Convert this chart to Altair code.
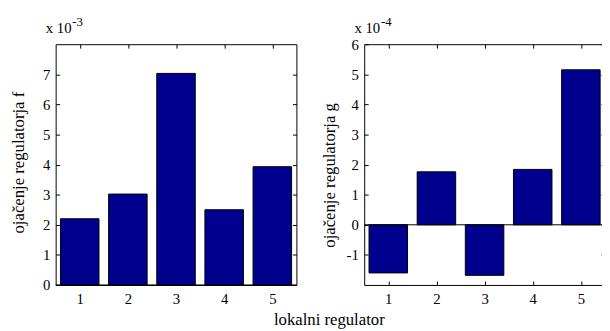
import altair as alt
import pandas as pd

# ---- data ----
regulators = [1, 2, 3, 4, 5]
gain_f = [2.20, 3.02, 7.03, 2.50, 3.93]      # x 10^-3
gain_g = [-1.60, 1.76, -1.68, 1.84, 5.15]    # x 10^-4
f_ticks = [0, 1, 2, 3, 4, 5, 6, 7]
g_ticks = [-1, 0, 1, 2, 3, 4, 5, 6]
f_domain = [0, 8]
g_domain = [-2, 6]
f_title = "ojačenje regulatorja f"
g_title = "ojačenje regulatorja g"
f_multiplier = ["x 10", "-3"]
g_multiplier = ["x 10", "-4"]
x_title = "lokalni regulator"

FONT = "Liberation Serif"
BAR = "#00008F"
W = 245
H = 245
TICK = 4


def panel(values, ydomain, yticks, ytitle, title_x, title_y, mult, xtitle=None):
    df = pd.DataFrame({"reg": regulators, "val": values})
    base = alt.Chart(df).transform_calculate(
        x0="datum.reg - 0.4", x1="datum.reg + 0.4"
    )
    xscale = alt.Scale(domain=[0.5, 5.5], nice=False, zero=False)
    yscale = alt.Scale(domain=ydomain, nice=False, zero=False)
    common = dict(domain=False, grid=False, tickSize=TICK, offset=-TICK,
                  tickColor="black", tickWidth=1, labelColor="black",
                  labelFontSize=15, labelFont=FONT)

    bars = base.mark_rect(fill=BAR, stroke="black", strokeWidth=1).encode(
        x=alt.X("x0:Q", scale=xscale,
                axis=alt.Axis(values=regulators, title=None, labelAngle=0,
                              labelPadding=7, **common)),
        x2="x1:Q",
        y=alt.Y("val:Q", scale=yscale,
                axis=alt.Axis(values=yticks, title=ytitle, labelPadding=6,
                              labelExpr="'' + datum.value",
                              titleX=title_x, titleY=title_y, titleAngle=-90,
                              titleAlign="center", titleBaseline="middle",
                              titleFontSize=17, titleFont=FONT,
                              titleFontWeight="normal", titleColor="black",
                              **common)),
        y2=alt.YDatum(0),
    )
    carrier = base.mark_rect(opacity=0).encode(
        x=alt.X("x0:Q", scale=xscale,
                axis=alt.Axis(orient="top", values=regulators, labels=False,
                              title=None, **common)),
        x2="x1:Q",
        y=alt.Y("val:Q", scale=yscale,
                axis=alt.Axis(orient="right", values=yticks, labels=False,
                              title=None, **common)),
        y2=alt.YDatum(0),
    )
    zero = alt.Chart(pd.DataFrame({"z": [0]})).mark_rule(
        color="black", strokeWidth=1
    ).encode(x=alt.XDatum(0.5, axis=None), x2=alt.X2Datum(5.5),
             y=alt.YDatum(0, axis=None))

    m1 = alt.Chart(pd.DataFrame({"t": [mult[0]]})).mark_text(
        align="left", baseline="alphabetic", fontSize=15, font=FONT, color="black"
    ).encode(text="t:N", x=alt.value(-10), y=alt.value(-11))
    m2 = alt.Chart(pd.DataFrame({"t": [mult[1]]})).mark_text(
        align="left", baseline="alphabetic", fontSize=13, font=FONT, color="black"
    ).encode(text="t:N", x=alt.value(17), y=alt.value(-19))

    layers = [carrier, bars, zero, m1, m2]
    if xtitle is not None:
        xt = alt.Chart(pd.DataFrame({"t": [xtitle]})).mark_text(
            align="center", baseline="alphabetic", fontSize=17, font=FONT,
            color="black"
        ).encode(text="t:N", x=alt.value(278.5), y=alt.value(286))
        layers.append(xt)
    return alt.layer(*layers).resolve_axis(x="independent", y="independent").properties(
        width=W, height=H
    )


left = panel(gain_f, f_domain, f_ticks, f_title, -41.5, 120, f_multiplier, x_title)
right = panel(gain_g, g_domain, g_ticks, g_title, -39.5, 133, g_multiplier)

chart = alt.hconcat(left, right, spacing=69, bounds="flush").configure(
    font=FONT, padding={"left": 1.5, "top": 4, "right": -4, "bottom": 0}
).configure_view(stroke="black", strokeWidth=1)

chart.save("out.html", embed_options={"renderer": "svg", "actions": False})
